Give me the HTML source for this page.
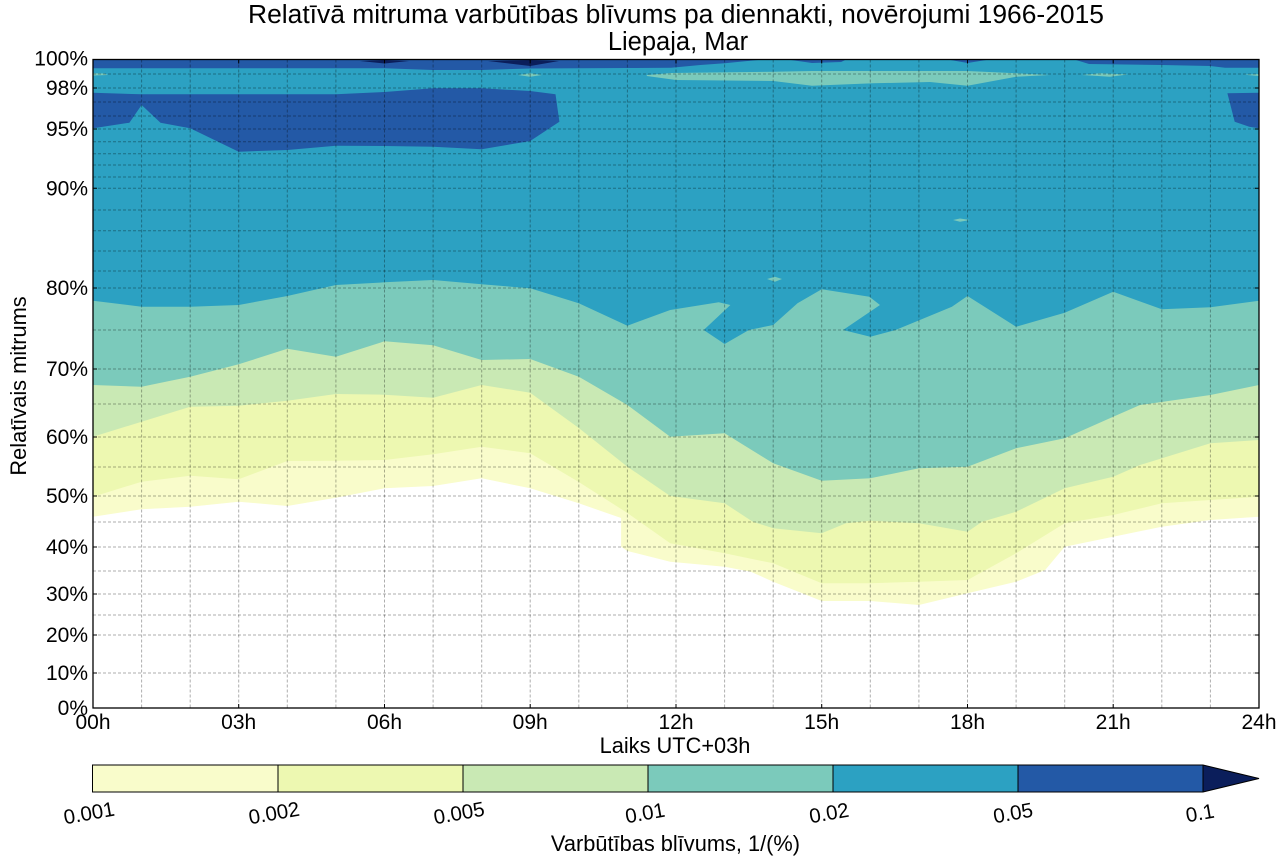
<!DOCTYPE html>
<html><head><meta charset="utf-8"><style>
html,body{margin:0;padding:0;background:#fff;}
svg{display:block;font-family:"Liberation Sans",Arial,sans-serif;}
</style></head><body>
<svg width="1284" height="863" viewBox="0 0 1284 863" xmlns="http://www.w3.org/2000/svg">
<rect x="0" y="0" width="1284" height="863" fill="#fff"/>
<!-- title -->
<text x="676" y="23" font-size="25.5" text-anchor="middle" textLength="856" lengthAdjust="spacingAndGlyphs" fill="#000">Relatīvā mitruma varbūtības blīvums pa diennakti, novērojumi 1966-2015</text>
<text x="678" y="50" font-size="25.5" text-anchor="middle" fill="#000">Liepaja, Mar</text>

<!-- plot area -->
<rect x="93" y="59.5" width="1166" height="648.5" fill="#fff"/>
<!-- 0.001 -->
<polygon fill="#f9fccb" points="93,516.7 141.6,509.3 190.2,506.7 238.7,501.7 287.3,506 335.9,497.7 384.5,488.3 433.1,486 481.7,478.3 530.2,488.3 578.8,503.3 621.1,518 621.1,546.7 627.4,551 670.2,561.7 724.6,566.7 750.8,571.7 773.2,581.7 821.7,601 870.3,601 918.9,605 967.5,593.3 1016.1,581.7 1045.2,570 1064.7,546.7 1113.2,536.7 1161.8,526.7 1210.4,520 1259,516.7 1259,59.5 93,59.5"/>
<!-- 0.002 -->
<polygon fill="#edf8b1" points="93,496.7 141.6,481.7 190.2,475.7 238.7,479.3 287.3,461 335.9,460.7 384.5,460 433.1,454.3 481.7,446.7 530.2,453.3 578.8,482 627.4,513 670.2,543.3 724.6,553.3 773.2,563.3 821.7,583.3 870.3,583.3 918.9,581.7 967.5,580 1016.1,553.3 1064.7,523.3 1113.2,515 1161.8,503.3 1210.4,500 1259,496.7 1259,59.5 93,59.5"/>
<!-- 0.005 -->
<polygon fill="#c9e9b4" points="93,436.7 141.6,421.7 190.2,406.7 238.7,405.7 287.3,400.7 335.9,394 384.5,394.7 433.1,397.7 481.7,385 530.2,392.7 578.8,428 627.4,466.7 670.2,496 724.6,503.3 752.8,521.7 773.2,528.3 821.7,533.3 846,523.3 870.3,520.7 918.9,523.3 967.5,531.7 982.1,521.7 1016.1,511.7 1064.7,488.3 1113.2,476.7 1140,465 1210.4,443.3 1259,440 1259,59.5 93,59.5"/>
<!-- 0.01 -->
<polygon fill="#7bcabb" points="93,385 141.6,386.7 190.2,376.7 238.7,364.3 287.3,348.7 335.9,356.7 384.5,341.3 433.1,345.3 481.7,360 530.2,359 578.8,376.7 627.4,405 670.2,436.7 724.6,433.3 773.2,463.3 821.7,480.7 870.3,478.3 918.9,468.3 967.5,466.7 1016.1,448.3 1064.7,438.3 1113.2,416.7 1140,405 1210.4,395 1259,385 1259,59.5 93,59.5"/>
<!-- 0.02 -->
<polygon fill="#2ca1c2" points="93,300.7 141.6,306.7 190.2,306.7 238.7,305 287.3,296 335.9,285 384.5,282.3 433.1,280 481.7,284.3 530.2,288.3 578.8,303.3 627.4,325.7 670.2,310 718.7,302.3 730.4,305 703.7,330 724.6,344 748.9,330 773.2,325 797.5,303.3 821.7,289.3 869.4,296.7 880,305 843.1,330 870.3,336.7 895.6,330 951.9,306.7 967.5,296 1016.1,326.7 1064.7,312.7 1113.2,291.7 1161.8,309.3 1210.4,307.3 1259,300.7 1259,59.5 93,59.5"/>
<!-- 0.01 islands / band near top -->
<polygon fill="#7bcabb" points="646.8,75 671.1,73 773.2,71.7 812,71 870.3,71 967.5,71 1016.1,73.3 1050.1,75 1016.1,76.7 967.5,85.7 930,82 873.2,83.3 812,85.7 773.2,81 676,80 646.8,76"/>
<polygon fill="#7bcabb" points="1081.7,75 1100,73.3 1127.8,74.5 1110,76.7"/>
<polygon fill="#7bcabb" points="1244.4,74.8 1259,74 1259,76"/>
<polygon fill="#7bcabb" points="93,73.3 104,73.5 108,75 93,75.5"/>
<polygon fill="#7bcabb" points="518,75 530,73.3 542,75 530,76.7"/>
<polygon fill="#7bcabb" points="767,279 775,276.7 782,279 775,281.7"/>
<polygon fill="#7bcabb" points="953,220 960,218.5 970,220 960,221.8"/>
<!-- 0.05 -->
<polygon fill="#2359a6" points="93,92.7 141.6,94.3 335.9,94.3 384.5,92 433.1,88.3 481.7,88.3 530.2,91 555.5,94.3 559.4,121.7 530.2,141 481.7,149.3 433.1,146.7 384.5,146 335.9,145.7 287.3,150 238.7,151.7 190.2,128.3 160.5,122.7 141.6,105 129.4,122.7 93,128.3"/>
<polygon fill="#2359a6" points="1227.4,93.3 1259,92.7 1259,128.3 1249.3,126.7 1234.7,121.7"/>
<polygon fill="#2359a6" points="93,59.5 93,68.3 384.5,68.3 433.1,70 481.7,70 530.2,68.5 627.4,68 671.1,67.7 700.3,65 724.6,63.3 763.4,59.5"/>
<polygon fill="#2359a6" points="1074.4,59.5 1089,64 1161.8,65 1210.4,66 1225,67.7 1259,67.7 1259,59.5"/>
<polygon fill="#2359a6" points="787.7,59.5 812,63 841.2,62 846,59.5"/>
<polygon fill="#2359a6" points="948,59.5 967.5,63 989.4,59.5"/>
<!-- >0.1 -->
<polygon fill="#0b1e5b" points="360,61 384.5,63.5 409,61 384.5,60"/>
<polygon fill="#0b1e5b" points="488,61 530.2,66 559,61 530.2,60"/>

<!-- grid -->
<g stroke="#000" stroke-opacity="0.32" stroke-width="1" stroke-dasharray="3,2" fill="none">
<path d="M141.6,59.5V708M190.2,59.5V708M238.7,59.5V708M287.3,59.5V708M335.9,59.5V708M384.5,59.5V708M433.1,59.5V708M481.7,59.5V708M530.2,59.5V708M578.8,59.5V708M627.4,59.5V708M676,59.5V708M724.6,59.5V708M773.2,59.5V708M821.7,59.5V708M870.3,59.5V708M918.9,59.5V708M967.5,59.5V708M1016.1,59.5V708M1064.7,59.5V708M1113.2,59.5V708M1161.8,59.5V708M1210.4,59.5V708"/>
<path d="M93,673H1259M93,635H1259M93,615H1259M93,594H1259M93,571H1259M93,547H1259M93,522H1259M93,496H1259M93,467H1259M93,437H1259M93,404H1259M93,369H1259M93,330H1259M93,288H1259M93,271H1259M93,251H1259M93,230.7H1259M93,210H1259M93,188.3H1259M93,177H1259M93,165H1259M93,153.7H1259M93,141.7H1259M93,129H1259M93,116H1259M93,102H1259M93,88H1259M93,74H1259"/>
</g>
<!-- ticks -->
<g stroke="#000" stroke-width="1">
<path d="M93,673h4M93,635h4M93,594h4M93,547h4M93,496h4M93,437h4M93,369h4M93,288h4M93,188.3h4M93,129h4M93,88h4M1259,673h-4M1259,635h-4M1259,594h-4M1259,547h-4M1259,496h-4M1259,437h-4M1259,369h-4M1259,288h-4M1259,188.3h-4M1259,129h-4M1259,88h-4"/>
<path d="M238.7,708v-4M384.5,708v-4M530.2,708v-4M676,708v-4M821.7,708v-4M967.5,708v-4M1113.2,708v-4M238.7,59.5v4M384.5,59.5v4M530.2,59.5v4M676,59.5v4M821.7,59.5v4M967.5,59.5v4M1113.2,59.5v4"/>
</g>
<rect x="93" y="59.5" width="1166" height="648.5" fill="none" stroke="#000" stroke-width="1.3"/>

<!-- y tick labels -->
<g font-size="21" text-anchor="end" fill="#000">
<text x="88" y="65.5">100%</text>
<text x="88" y="95">98%</text>
<text x="88" y="136">95%</text>
<text x="88" y="195.3">90%</text>
<text x="88" y="295">80%</text>
<text x="88" y="376">70%</text>
<text x="88" y="444">60%</text>
<text x="88" y="503">50%</text>
<text x="88" y="554">40%</text>
<text x="88" y="601">30%</text>
<text x="88" y="642">20%</text>
<text x="88" y="680">10%</text>
<text x="88" y="715">0%</text>
</g>
<!-- x tick labels -->
<g font-size="21" text-anchor="middle" fill="#000">
<text x="93" y="729">00h</text>
<text x="238.7" y="729">03h</text>
<text x="384.5" y="729">06h</text>
<text x="530.2" y="729">09h</text>
<text x="676" y="729">12h</text>
<text x="821.7" y="729">15h</text>
<text x="967.5" y="729">18h</text>
<text x="1113.2" y="729">21h</text>
<text x="1259" y="729">24h</text>
</g>
<text x="675" y="753" font-size="21.8" text-anchor="middle" fill="#000">Laiks UTC+03h</text>
<text transform="translate(26,386) rotate(-90)" x="0" y="0" font-size="21.8" text-anchor="middle" fill="#000">Relatīvais mitrums</text>

<!-- colorbar -->
<rect x="92.5" y="765" width="185.5" height="27" fill="#f9fccb"/>
<rect x="278" y="765" width="185" height="27" fill="#edf8b1"/>
<rect x="463" y="765" width="185" height="27" fill="#c9e9b4"/>
<rect x="648" y="765" width="185" height="27" fill="#7bcabb"/>
<rect x="833" y="765" width="185" height="27" fill="#2ca1c2"/>
<rect x="1018" y="765" width="185" height="27" fill="#2359a6"/>
<polygon points="1203,765 1259,778.5 1203,792" fill="#0b1e5b"/>
<g stroke="#000" stroke-width="1" fill="none">
<path d="M278,765V792M463,765V792M648,765V792M833,765V792M1018,765V792M1203,765V792"/>
<polygon points="92.5,765 1203,765 1259,778.5 1203,792 92.5,792"/>
</g>
<g font-size="20.5" text-anchor="middle" fill="#000">
<text x="89" y="820" transform="rotate(-10 89 813)">0.001</text>
<text x="274" y="820" transform="rotate(-10 274 813)">0.002</text>
<text x="459" y="820" transform="rotate(-10 459 813)">0.005</text>
<text x="645" y="820" transform="rotate(-10 645 813)">0.01</text>
<text x="829" y="820" transform="rotate(-10 829 813)">0.02</text>
<text x="1013" y="820" transform="rotate(-10 1013 813)">0.05</text>
<text x="1200" y="820" transform="rotate(-10 1200 813)">0.1</text>
</g>
<text x="675.5" y="851" font-size="21.8" text-anchor="middle" fill="#000">Varbūtības blīvums, 1/(%)</text>
</svg>
</body></html>
